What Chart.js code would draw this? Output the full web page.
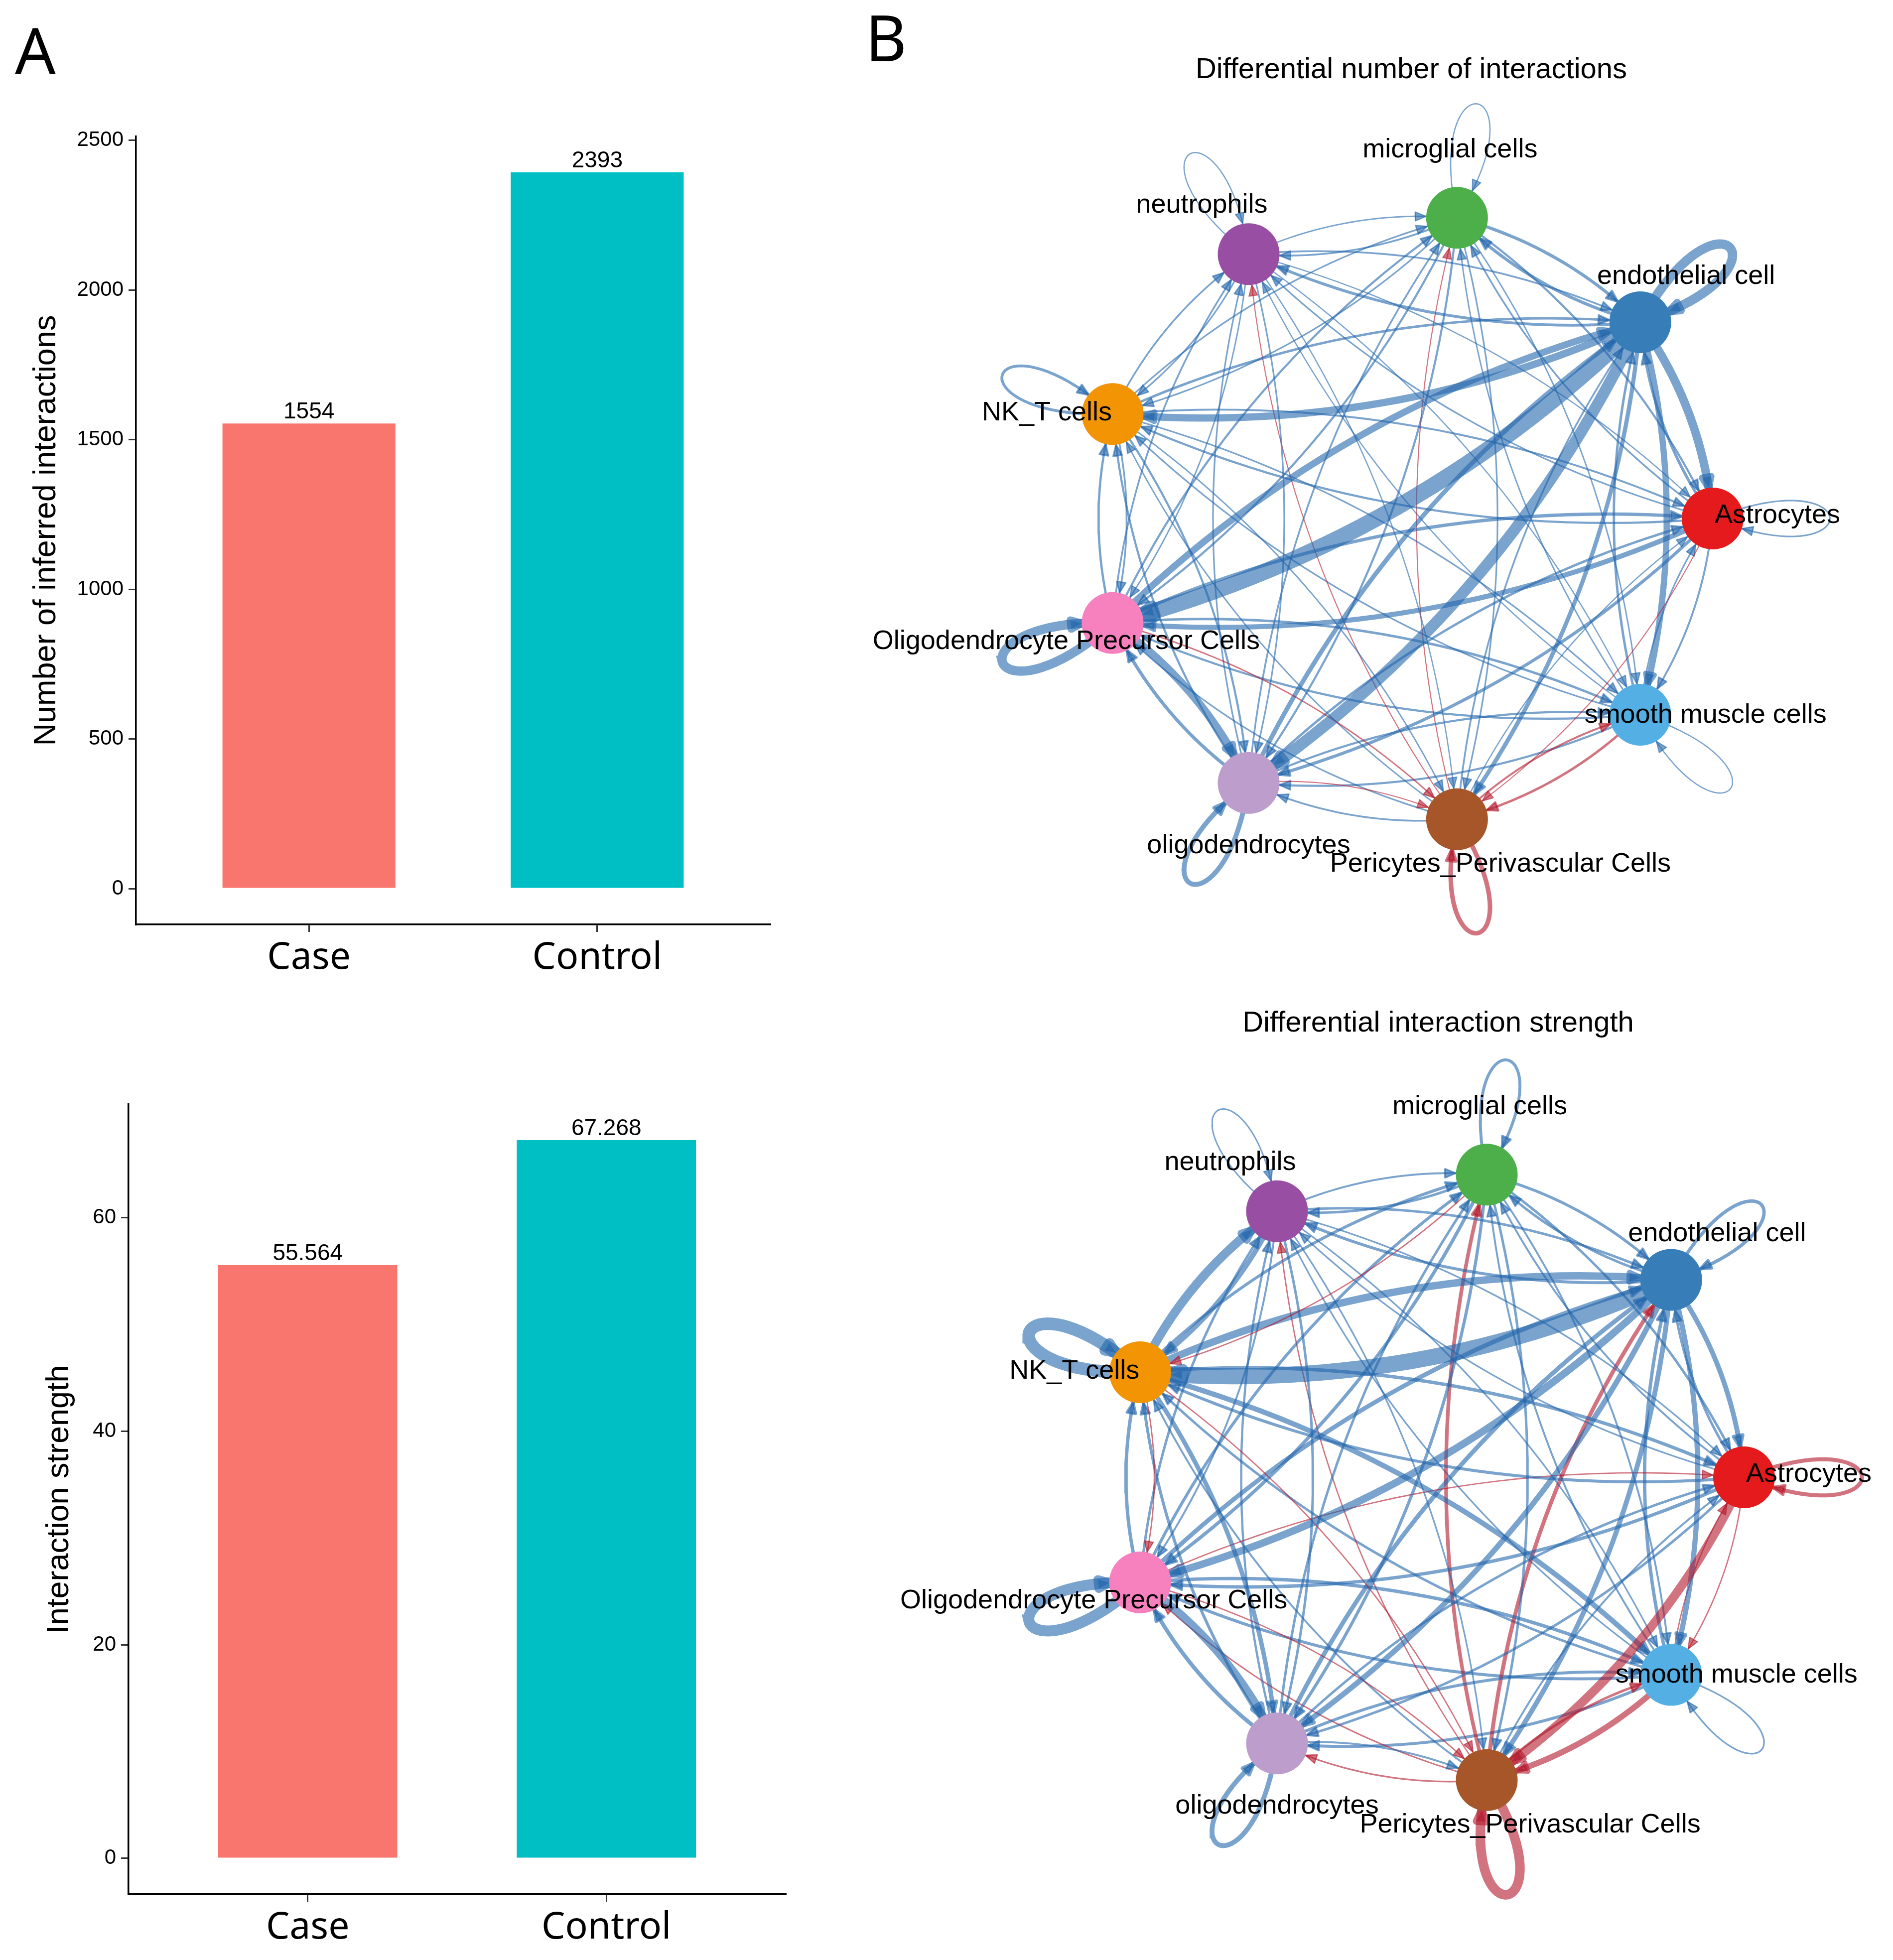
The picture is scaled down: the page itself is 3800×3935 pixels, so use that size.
<!DOCTYPE html>
<html>
<head>
<meta charset="utf-8">
<title>Case vs Control interactions</title>
<script src="https://cdn.jsdelivr.net/npm/chart.js@4.4.1/dist/chart.umd.min.js"></script>
<style>
  html, body { margin: 0; padding: 0; background: #fff; }
  body { position: relative; width: 3800px; height: 3935px; overflow: hidden; font-family: "Liberation Sans", Arial, sans-serif; }
  canvas { position: absolute; }
  .panel { position: absolute; font-family: "Noto Sans", sans-serif; font-size: 128px; line-height: 1; }
  .title { position: absolute; font-size: 58px; line-height: 1; white-space: nowrap; transform: translateX(-50%); }
</style>
</head>
<body>
<canvas id="countBar" width="1600" height="2000" style="left:0;top:0"></canvas>
<canvas id="strengthBar" width="1600" height="1835" style="left:0;top:2100px"></canvas>
<canvas id="countNet" width="2200" height="2000" style="left:1717px;top:41px"></canvas>
<canvas id="strengthNet" width="2200" height="2000" style="left:1776px;top:1966px"></canvas>
<div class="panel" style="left:30px;top:35px">A</div>
<div class="panel" style="left:1737px;top:10px">B</div>
<div class="title" style="left:2833px;top:108px">Differential number of interactions</div>
<div class="title" style="left:2887px;top:2022px">Differential interaction strength</div>
<script>
Chart.defaults.font.family = '"Liberation Sans", Arial, sans-serif';
Chart.defaults.color = '#000';
Chart.defaults.animation = false;

// panel A
const groups = ['Case', 'Control'];
const groupColors = ['#F8766D', '#00BFC4'];
const interactionCounts = [1554, 2393];
const interactionStrength = [55.564, 67.268];
const countTicks = [0, 500, 1000, 1500, 2000, 2500];
const strengthTicks = [0, 20, 40, 60];

// panel B
const cellTypes = ['Astrocytes', 'endothelial cell', 'microglial cells', 'neutrophils', 'NK_T cells',
  'Oligodendrocyte Precursor Cells', 'oligodendrocytes', 'Pericytes_Perivascular Cells', 'smooth muscle cells'];
const cellColors = ['#E41A1C', '#377EB8', '#4DAF4A', '#984EA3', '#F29403', '#F781BF', '#BC9DCC', '#A65628', '#54B0E4'];

// rows = sender, columns = receiver (Case - Control)
const diffCount = [
  [-5, -12, -6, -5, -8, -25, -14, 2, -7],
  [-45, -50, -14, -12, -38, -90, -62, -20, -32],
  [-8, -14, -3, -6, -5, -8, -8, -5, -4],
  [-3, -6, -4, -3, -5, -4, -5, -3, -3],
  [-7, -10, -5, -6, -12, -6, -8, -4, -5],
  [-15, -35, -8, -6, -9, -50, -42, 4, -10],
  [-10, -22, -6, -5, -8, -15, -24, 2, -8],
  [-3, -6, 2, 2, -4, -5, -6, 22, 7],
  [-5, -10, -4, -3, -5, -8, -8, 10, -3]
];
const diffStrength = [
  [0.22, -0.12, -0.08, -0.06, -0.15, -0.18, -0.12, 0.55, 0.04],
  [-0.28, -0.18, -0.12, -0.15, -1.05, -0.45, -0.32, -0.28, -0.30],
  [-0.12, -0.14, -0.15, -0.12, 0.04, -0.18, -0.16, -0.12, -0.08],
  [-0.06, -0.12, -0.08, -0.05, -0.30, -0.08, -0.12, -0.06, -0.06],
  [-0.18, -0.45, -0.15, -0.55, -0.80, 0.04, -0.25, 0.04, -0.30],
  [0.04, -0.25, -0.15, -0.12, -0.18, -0.70, -0.50, 0.04, -0.18],
  [-0.12, -0.25, -0.12, -0.10, -0.15, -0.22, -0.28, -0.08, -0.15],
  [-0.08, 0.22, 0.20, 0.04, -0.08, 0.05, 0.06, 0.60, 0.12],
  [0.04, -0.18, -0.08, -0.06, -0.12, -0.15, -0.15, 0.35, -0.06]
];

const valueLabels = {
  id: 'valueLabels',
  afterDatasetsDraw(chart) {
    const ctx = chart.ctx;
    const ds = chart.data.datasets[0];
    ctx.save();
    ctx.font = '46px "Liberation Sans", Arial, sans-serif';
    ctx.fillStyle = '#000';
    ctx.textAlign = 'center';
    ctx.textBaseline = 'alphabetic';
    chart.getDatasetMeta(0).data.forEach((bar, i) => {
      ctx.fillText(String(ds.data[i].y), bar.x, bar.y - 10);
    });
    ctx.restore();
  }
};

function groupBars(id, values, ticks, yTitle, box) {
  const top = Math.max(...values);
  const tickGrid = {drawOnChartArea: false, drawTicks: true, tickLength: 15, color: '#333', lineWidth: 3, offset: false};
  const axisLine = {display: true, color: '#000', width: 3.5};
  new Chart(document.getElementById(id), {
    type: 'bar',
    data: {
      datasets: [{
        data: values.map((v, i) => ({x: i + 1, y: v})),
        backgroundColor: groupColors,
        barPercentage: 0.6,
        categoryPercentage: 1
      }]
    },
    options: {
      responsive: false,
      events: [],
      layout: {padding: {top: box.top, right: box.right, left: 0, bottom: 0}},
      plugins: {legend: {display: false}, tooltip: {enabled: false}},
      scales: {
        x: {
          type: 'linear', offset: false,
          min: 0.4, max: groups.length + 0.6,
          afterBuildTicks: s => { s.ticks = groups.map((g, i) => ({value: i + 1})); },
          afterFit: s => { s.height = box.xAxis; },
          ticks: {callback: v => groups[v - 1], font: {family: '"Noto Sans", sans-serif', size: 75},
                  color: '#000', padding: 8, maxRotation: 0, autoSkip: false},
          grid: tickGrid,
          border: axisLine
        },
        y: {
          min: -0.05 * top, max: 1.05 * top,
          afterBuildTicks: s => { s.ticks = ticks.map(v => ({value: v})); },
          afterFit: s => { s.width = box.yAxis; },
          ticks: {callback: v => String(v), font: {size: 42}, color: '#000', padding: 10},
          grid: tickGrid,
          border: axisLine,
          title: {display: true, text: yTitle, font: {size: 63}, color: '#000',
                  padding: {top: box.titlePad, bottom: 0}}
        }
      }
    },
    plugins: [valueLabels]
  });
}

groupBars('countBar', interactionCounts, countTicks, 'Number of inferred interactions',
  {top: 274, right: 54, xAxis: 144, yAxis: 273, titlePad: 56});
groupBars('strengthBar', interactionStrength, strengthTicks, 'Interaction strength',
  {top: 117, right: 23, xAxis: 132, yAxis: 258, titlePad: 82});

// circle network
const NODE_R = 62;
const labelShift = [[130, -6], [92, -92], [-14, -136], [-94, -98], [-132, -2], [-93, 37], [0, 126], [87, 90], [131, 1]];

const arrowHeads = {
  id: 'arrowHeads',
  afterDatasetDraw(chart, args) {
    const ds = chart.data.datasets[args.index];
    if (ds.target === undefined) return;
    const pts = args.meta.data;
    const c = chart.getDatasetMeta(0).data[ds.target];
    const out = p => Math.hypot(p.x - c.x, p.y - c.y) > NODE_R;
    let k = pts.length - 1;
    while (k > 0 && !out(pts[k])) k--;
    const p = pts[k], q = pts[Math.min(k + 1, pts.length - 1)];
    let lo = 0, hi = 1;
    for (let it = 0; it < 20; it++) {
      const m = (lo + hi) / 2;
      if (out({x: p.x + (q.x - p.x) * m, y: p.y + (q.y - p.y) * m})) lo = m; else hi = m;
    }
    const tip = {x: p.x + (q.x - p.x) * lo, y: p.y + (q.y - p.y) * lo};
    const b = pts[Math.max(k - 2, 0)];
    let dx = tip.x - b.x, dy = tip.y - b.y;
    const dl = Math.hypot(dx, dy) || 1;
    dx /= dl; dy /= dl;
    const len = 22, hw = 9;
    const ctx = chart.ctx;
    ctx.save();
    ctx.fillStyle = ds.borderColor;
    ctx.strokeStyle = ds.borderColor;
    ctx.lineWidth = Math.max(1, ds.borderWidth * 0.8);
    ctx.lineJoin = 'round';
    ctx.beginPath();
    ctx.moveTo(tip.x, tip.y);
    ctx.lineTo(tip.x - dx * len - dy * hw, tip.y - dy * len + dx * hw);
    ctx.lineTo(tip.x - dx * len + dy * hw, tip.y - dy * len - dx * hw);
    ctx.closePath();
    ctx.fill();
    ctx.stroke();
    ctx.restore();
  }
};

const nodeLabels = {
  id: 'nodeLabels',
  afterDraw(chart) {
    const ctx = chart.ctx;
    ctx.save();
    ctx.font = '54px "Liberation Sans", Arial, sans-serif';
    ctx.fillStyle = '#000';
    ctx.textAlign = 'center';
    ctx.textBaseline = 'middle';
    chart.getDatasetMeta(0).data.forEach((pt, k) => {
      ctx.fillText(cellTypes[k], pt.x + labelShift[k][0], pt.y + labelShift[k][1]);
    });
    ctx.restore();
  }
};

function network(id, mat, xr, yr) {
  const n = cellTypes.length;
  const pos = cellTypes.map((c, k) => ({x: Math.cos(2 * Math.PI * k / n), y: Math.sin(2 * Math.PI * k / n)}));
  const maxW = Math.max(...mat.flat().map(Math.abs));
  const datasets = [{
    data: pos, pointRadius: NODE_R, pointHoverRadius: NODE_R,
    backgroundColor: cellColors, borderWidth: 0, showLine: false, order: 0
  }];
  mat.forEach((row, i) => row.forEach((v, j) => {
    if (!v) return;
    const a = pos[i], b = pos[j];
    const pts = [];
    if (i === j) {
      const phi = 2 * Math.PI * i / n, L = 0.545, d = 22 * Math.PI / 180;
      const c1 = {x: a.x + L * Math.cos(phi + d), y: a.y + L * Math.sin(phi + d)};
      const c2 = {x: a.x + L * Math.cos(phi - d), y: a.y + L * Math.sin(phi - d)};
      for (let s = 0; s <= 40; s++) {
        const t = s / 40, u = 1 - t;
        pts.push({
          x: u * u * u * a.x + 3 * u * u * t * c1.x + 3 * u * t * t * c2.x + t * t * t * a.x,
          y: u * u * u * a.y + 3 * u * u * t * c1.y + 3 * u * t * t * c2.y + t * t * t * a.y
        });
      }
    } else {
      const c = {x: (a.x + b.x) / 2 - 0.133 * (b.y - a.y), y: (a.y + b.y) / 2 + 0.133 * (b.x - a.x)};
      for (let s = 0; s <= 30; s++) {
        const t = s / 30, u = 1 - t;
        pts.push({x: u * u * a.x + 2 * u * t * c.x + t * t * b.x, y: u * u * a.y + 2 * u * t * c.y + t * t * b.y});
      }
    }
    datasets.push({
      data: pts, showLine: true, pointRadius: 0, pointHoverRadius: 0,
      borderColor: v > 0 ? 'rgba(178,24,43,0.6)' : 'rgba(33,102,172,0.6)',
      borderWidth: 1.5 + Math.abs(v) / maxW * 31,
      tension: 0, order: 1, target: j
    });
  }));
  new Chart(document.getElementById(id), {
    type: 'scatter',
    data: {datasets},
    options: {
      responsive: false,
      events: [],
      layout: {padding: 0, autoPadding: false},
      plugins: {legend: {display: false}, tooltip: {enabled: false}},
      scales: {
        x: {type: 'linear', display: false, min: -xr, max: xr},
        y: {type: 'linear', display: false, min: -yr, max: yr}
      }
    },
    plugins: [arrowHeads, nodeLabels]
  });
}

network('countNet', diffCount, 1100 / 621, 1000 / 613);
network('strengthNet', diffStrength, 1100 / 625, 1000 / 617);
</script>
</body>
</html>
